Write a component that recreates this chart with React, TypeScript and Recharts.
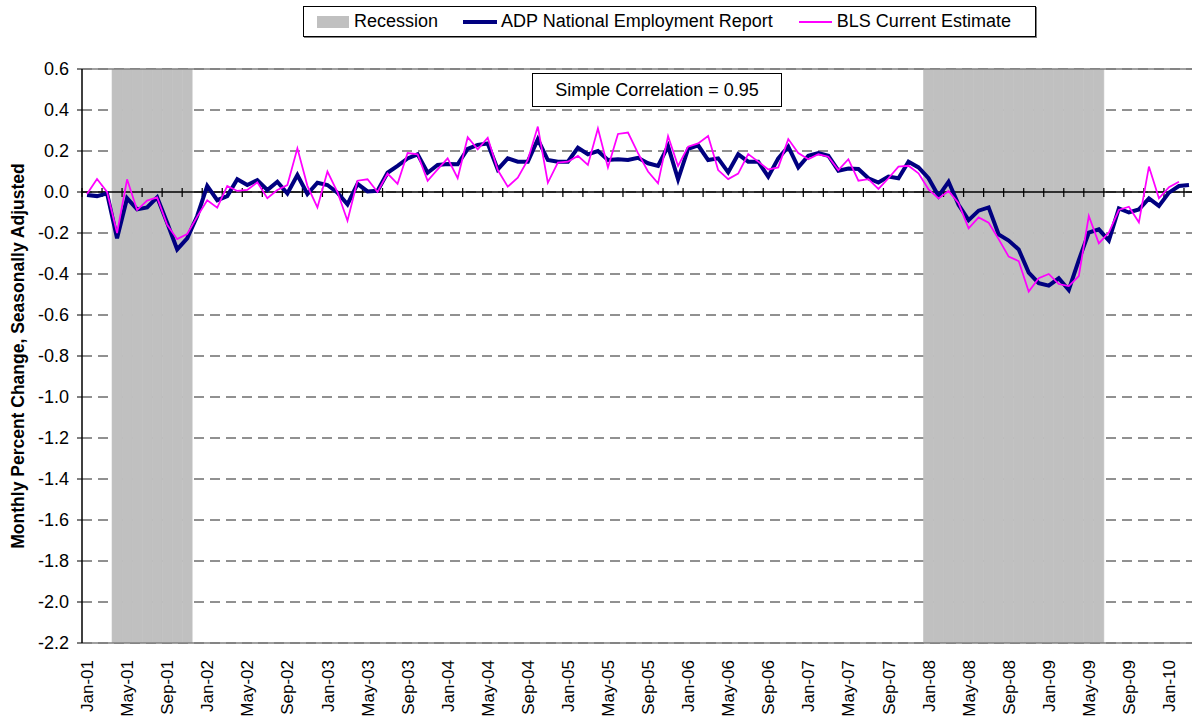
import {
  ComposedChart,
  Bar,
  Line,
  XAxis,
  YAxis,
  CartesianGrid,
  ReferenceLine,
  Legend,
} from "recharts";

const FONT = "Arial, 'Liberation Sans', sans-serif";

const MONTHS = ["Jan", "Feb", "Mar", "Apr", "May", "Jun", "Jul", "Aug", "Sep", "Oct", "Nov", "Dec"];
const N_MONTHS = 111; // Jan-01 .. Mar-10
const categories = Array.from(
  { length: N_MONTHS },
  (_, i) => `${MONTHS[i % 12]}-${String(1 + Math.floor(i / 12)).padStart(2, "0")}`
);

// ADP National Employment Report, monthly % change
const adp = [
  -0.015, -0.02, -0.007, -0.226, -0.03, -0.085, -0.075, -0.026, -0.15, -0.28, -0.226, -0.117,
  0.03, -0.04, -0.02, 0.062, 0.034, 0.058, 0.01, 0.05, -0.007, 0.083, -0.01, 0.045,
  0.034, -0.003, -0.06, 0.04, 0.003, 0.006, 0.094, 0.127, 0.164, 0.184, 0.094, 0.132,
  0.137, 0.135, 0.21, 0.23, 0.237, 0.11, 0.164, 0.148, 0.148, 0.257, 0.156, 0.148,
  0.148, 0.216, 0.184, 0.2, 0.156, 0.16, 0.156, 0.167, 0.14, 0.127, 0.224, 0.062,
  0.21, 0.228, 0.156, 0.164, 0.096, 0.184, 0.148, 0.148, 0.075, 0.164, 0.221, 0.12,
  0.177, 0.19, 0.177, 0.104, 0.115, 0.112, 0.067, 0.046, 0.075, 0.067, 0.148, 0.12,
  0.067, -0.02, 0.05, -0.063, -0.137, -0.091, -0.075, -0.207, -0.237, -0.28, -0.393, -0.445,
  -0.457, -0.421, -0.478, -0.332, -0.198, -0.182, -0.237, -0.08, -0.1, -0.085, -0.031, -0.068,
  -0.003, 0.029, 0.034,
];

// BLS Current Estimate, monthly % change (ends Feb-10)
const bls = [
  -0.01, 0.063, 0.0, -0.2, 0.062, -0.088, -0.042, -0.026, -0.16, -0.23, -0.205, -0.12,
  -0.04, -0.076, 0.03, 0.005, 0.01, 0.047, -0.03, 0.01, 0.034, 0.213, 0.03, -0.075,
  0.1, 0.0, -0.14, 0.055, 0.062, 0.0, 0.09, 0.04, 0.19, 0.184, 0.055, 0.11,
  0.164, 0.067, 0.267, 0.208, 0.265, 0.107, 0.026, 0.07, 0.156, 0.319, 0.045, 0.143,
  0.148, 0.176, 0.132, 0.31, 0.12, 0.283, 0.29, 0.19, 0.1, 0.042, 0.273, 0.127,
  0.221, 0.237, 0.273, 0.107, 0.063, 0.09, 0.185, 0.148, 0.11, 0.12, 0.258, 0.19,
  0.16, 0.184, 0.172, 0.107, 0.16, 0.055, 0.063, 0.015, 0.067, 0.124, 0.128, 0.091,
  0.013, -0.031, 0.005, -0.055, -0.177, -0.124, -0.15, -0.23, -0.315, -0.337, -0.486, -0.421,
  -0.4, -0.449, -0.459, -0.41, -0.117, -0.25, -0.198, -0.088, -0.072, -0.148, 0.124, -0.031,
  0.023, 0.05,
];

const recessions = [
  { from: "Apr-01", to: "Nov-01" },
  { from: "Jan-08", to: "Jun-09" },
];

const yTicks = [0.6, 0.4, 0.2, 0, -0.2, -0.4, -0.6, -0.8, -1.0, -1.2, -1.4, -1.6, -1.8, -2.0, -2.2];
const Y_MIN = -2.2;
const Y_MAX = 0.6;

const inRecession = (i: number) =>
  recessions.some((r) => i >= categories.indexOf(r.from) && i <= categories.indexOf(r.to));

const data = categories.map((month, i) => ({
  month,
  adp: adp[i] ?? null,
  bls: bls[i] ?? null,
  recession: inRecession(i) ? [Y_MIN, Y_MAX] : null,
}));

// cross tick marks on the zero line, every second month boundary
const zeroTicks = categories.filter((_, i) => i % 2 === 0);

// short cross mark where the vertical reference line meets y = 0
const ZeroTick = (props: any) => {
  const x = props.x1 ?? props.x;
  const top = Math.min(props.y1, props.y2);
  const bottom = Math.max(props.y1, props.y2);
  if (x == null || !isFinite(top) || !isFinite(bottom)) return null;
  const zeroY = top + (Y_MAX / (Y_MAX - Y_MIN)) * (bottom - top);
  return <line x1={x} x2={x} y1={zeroY - 4} y2={zeroY + 5} stroke="#000" strokeWidth={1.25} />;
};

const XTick = ({ x, y, payload }: any) => (
  <text
    x={x}
    y={y}
    transform={`rotate(-90 ${x} ${y})`}
    textAnchor="end"
    dy="0.36em"
    fontSize={17}
    fontFamily={FONT}
    fill="#000"
  >
    {payload.value}
  </text>
);

const YTitle = ({ viewBox }: any) => {
  const cx = 18;
  const cy = viewBox.y + viewBox.height / 2;
  return (
    <text
      x={cx}
      y={cy}
      transform={`rotate(-90 ${cx} ${cy})`}
      textAnchor="middle"
      dy="0.36em"
      fontSize={17.5}
      fontWeight="bold"
      fontFamily={FONT}
      fill="#000"
    >
      Monthly Percent Change, Seasonally Adjusted
    </text>
  );
};

const renderLegend = () => (
  <div
    style={{
      width: 718,
      height: 29,
      border: "1px solid #000",
      boxShadow: "1px 1px 0 #808080",
      background: "#fff",
      display: "flex",
      alignItems: "center",
      paddingLeft: 13,
      boxSizing: "content-box",
      fontFamily: FONT,
      fontSize: 18,
      color: "#000",
    }}
  >
    <span style={{ display: "flex", alignItems: "center", marginRight: 25 }}>
      <span style={{ width: 32, height: 12, background: "#C0C0C0", marginRight: 5 }} />
      Recession
    </span>
    <span style={{ display: "flex", alignItems: "center", marginRight: 26 }}>
      <span style={{ width: 34, height: 4, background: "#000080", marginRight: 4 }} />
      ADP National Employment Report
    </span>
    <span style={{ display: "flex", alignItems: "center" }}>
      <span style={{ width: 33, height: 2, background: "#FF00FF", marginRight: 5 }} />
      BLS Current Estimate
    </span>
  </div>
);

export default function App() {
  return (
    <div style={{ position: "absolute", left: 0, top: 0, width: 1192, height: 719, background: "#fff", overflow: "hidden" }}>
      <ComposedChart
        width={1192}
        height={719}
        data={data}
        margin={{ top: 69, right: -2, bottom: 0, left: 0 }}
        barCategoryGap={0}
        barGap={0}
      >
        <CartesianGrid vertical={false} stroke="#222" strokeDasharray="10 6" />
        <XAxis
          dataKey="month"
          height={76}
          interval={3}
          tick={<XTick />}
          tickLine={false}
          tickSize={6}
          tickMargin={11}
          axisLine={{ stroke: "#808080", strokeWidth: 1.5 }}
        />
        <YAxis
          width={82}
          domain={[Y_MIN, Y_MAX]}
          ticks={yTicks}
          allowDataOverflow
          tickFormatter={(v: number) => v.toFixed(1)}
          tick={{ fontSize: 18, fill: "#000", fontFamily: FONT }}
          tickSize={5}
          tickMargin={8}
          tickLine={{ stroke: "#000" }}
          axisLine={{ stroke: "#000", strokeWidth: 1.5 }}
          label={<YTitle />}
        />
        <Bar
          dataKey="recession"
          name="Recession"
          fill="#C0C0C0"
          stroke="#C0C0C0"
          strokeWidth={0.6}
          isAnimationActive={false}
        />
        <ReferenceLine y={Y_MAX} stroke="#808080" strokeWidth={1.5} />
        <ReferenceLine y={0} stroke="#000" strokeWidth={1.5} />
        {zeroTicks.map((m) => (
          <ReferenceLine key={m} x={m} position="start" shape={ZeroTick} />
        ))}
        <Line
          dataKey="adp"
          name="ADP National Employment Report"
          stroke="#000080"
          strokeWidth={4}
          dot={false}
          isAnimationActive={false}
        />
        <Line
          dataKey="bls"
          name="BLS Current Estimate"
          stroke="#FF00FF"
          strokeWidth={1.75}
          dot={false}
          isAnimationActive={false}
        />
        <Legend
          verticalAlign="middle"
          align="center"
          content={renderLegend}
          wrapperStyle={{ left: 303, top: 6, width: 732, height: 31 }}
        />
      </ComposedChart>
      <div
        style={{
          position: "absolute",
          left: 532,
          top: 73,
          width: 248,
          height: 32,
          border: "1px solid #000",
          background: "#fff",
          display: "flex",
          alignItems: "center",
          justifyContent: "center",
          fontFamily: FONT,
          fontSize: 18,
          color: "#000",
        }}
      >
        Simple Correlation = 0.95
      </div>
    </div>
  );
}
